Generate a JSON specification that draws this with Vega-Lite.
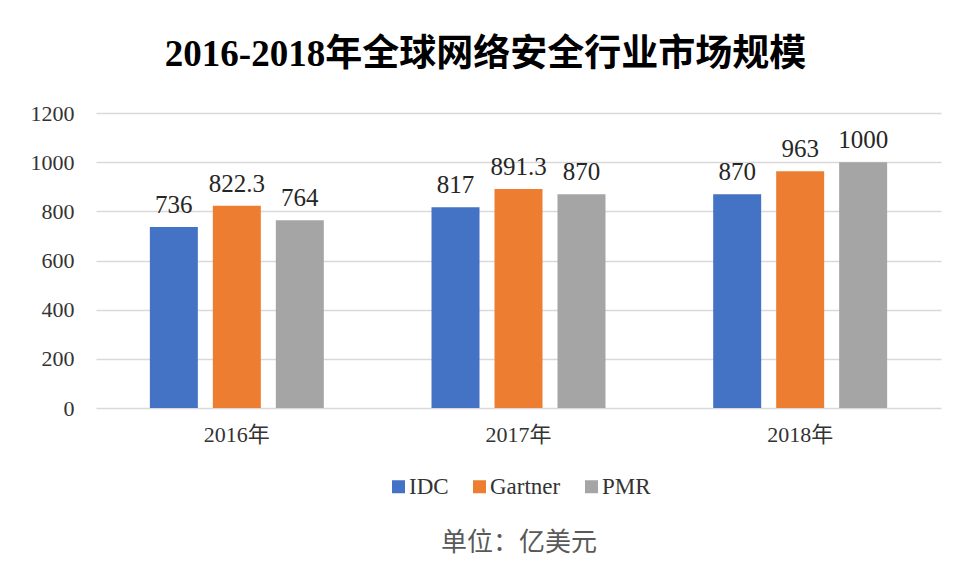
{
  "$schema": "https://vega.github.io/schema/vega-lite/v6.json",
  "width": 845,
  "height": 295,
  "padding": {"left": 30, "top": 36, "right": 17, "bottom": 5},
  "background": "white",
  "title": {
    "text": "2016-2018年全球网络安全行业市场规模",
    "font": "Liberation Serif, Noto Sans CJK SC",
    "fontSize": 37,
    "fontWeight": "bold",
    "color": "#000000",
    "anchor": "middle",
    "frame": "bounds",
    "offset": 28
  },
  "data": {
    "values": [
      {"year": "2016年", "source": "IDC", "value": 736, "label": "736"},
      {"year": "2016年", "source": "Gartner", "value": 822.3, "label": "822.3"},
      {"year": "2016年", "source": "PMR", "value": 764, "label": "764"},
      {"year": "2017年", "source": "IDC", "value": 817, "label": "817"},
      {"year": "2017年", "source": "Gartner", "value": 891.3, "label": "891.3"},
      {"year": "2017年", "source": "PMR", "value": 870, "label": "870"},
      {"year": "2018年", "source": "IDC", "value": 870, "label": "870"},
      {"year": "2018年", "source": "Gartner", "value": 963, "label": "963"},
      {"year": "2018年", "source": "PMR", "value": 1000, "label": "1000"}
    ]
  },
  "encoding": {
    "x": {
      "field": "year",
      "type": "nominal",
      "sort": null,
      "scale": {"paddingInner": 0, "paddingOuter": 0},
      "axis": {
        "title": null,
        "labelAngle": 0,
        "ticks": false,
        "domain": false,
        "labelPadding": 16,
        "labelFont": "Liberation Serif, Noto Sans CJK SC",
        "labelFontSize": 22,
        "labelColor": "#333333"
      }
    },
    "xOffset": {
      "field": "source",
      "type": "nominal",
      "sort": ["IDC", "Gartner", "PMR"],
      "scale": {"paddingInner": 0.238, "paddingOuter": 0.855}
    },
    "y": {
      "field": "value",
      "type": "quantitative",
      "scale": {"domain": [0, 1200]},
      "axis": {
        "title": null,
        "values": [0, 200, 400, 600, 800, 1000, 1200],
        "format": "d",
        "ticks": false,
        "domain": false,
        "labelPadding": 22,
        "labelFont": "Liberation Serif, serif",
        "labelFontSize": 22,
        "labelColor": "#333333",
        "gridColor": "#d9d9d9",
        "gridWidth": 1.5
      }
    }
  },
  "layer": [
    {
      "mark": {"type": "bar"},
      "encoding": {
        "color": {
          "field": "source",
          "type": "nominal",
          "sort": ["IDC", "Gartner", "PMR"],
          "scale": {"domain": ["IDC", "Gartner", "PMR"], "range": ["#4472C4", "#ED7D31", "#A5A5A5"]},
          "legend": {
            "title": "单位：亿美元",
            "orient": "bottom",
            "direction": "horizontal",
            "titleOrient": "bottom",
            "titleAnchor": "middle",
            "titleAlign": "center",
            "titleFont": "Noto Sans CJK SC",
            "titleFontSize": 26,
            "titleFontWeight": "normal",
            "titleColor": "#595959",
            "titlePadding": 31,
            "labelFont": "Liberation Serif, serif",
            "labelFontSize": 23,
            "labelColor": "#333333",
            "labelOffset": -1,
            "symbolType": "square",
            "symbolSize": 169,
            "symbolStrokeWidth": 0,
            "columnPadding": 19,
            "offset": 30
          }
        }
      }
    },
    {
      "mark": {
        "type": "text",
        "baseline": "alphabetic",
        "dy": -14,
        "font": "Liberation Serif, serif",
        "fontSize": 25,
        "color": "#262626"
      },
      "encoding": {
        "text": {"field": "label", "type": "nominal"}
      }
    }
  ],
  "config": {
    "view": {"stroke": null},
    "legend": {"layout": {"bottom": {"anchor": "middle"}}}
  }
}
